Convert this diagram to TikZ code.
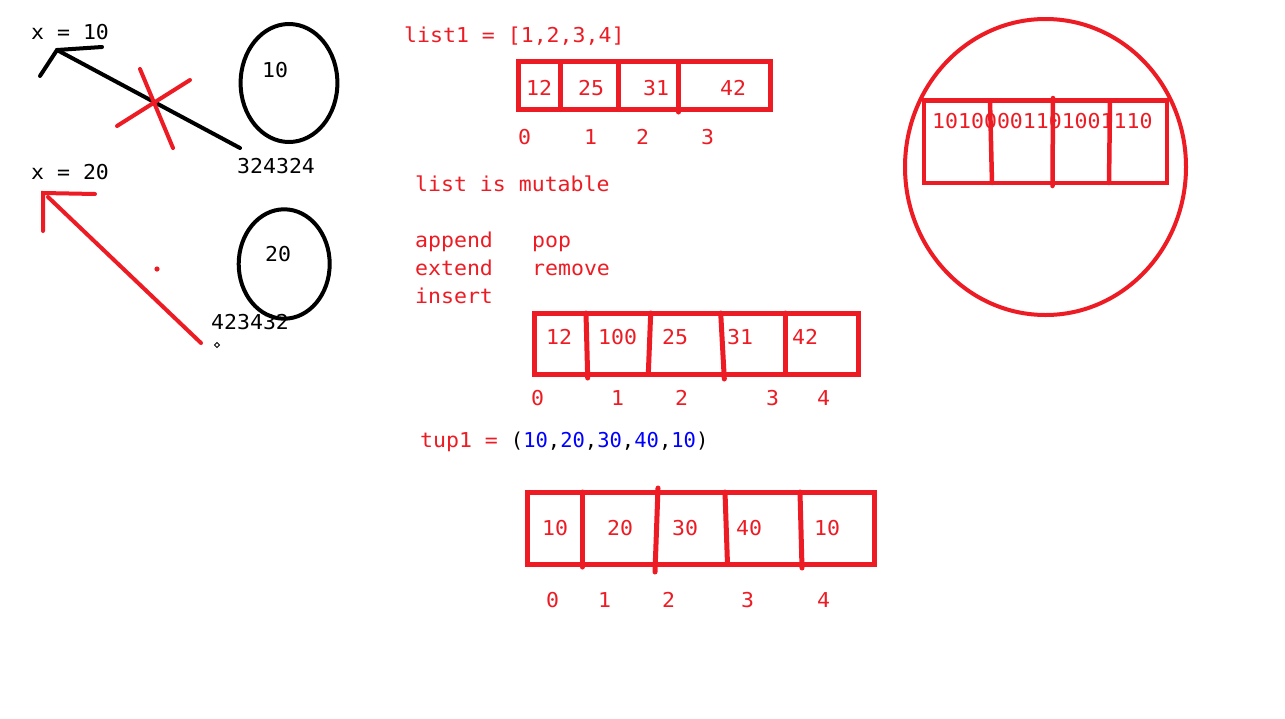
\documentclass[tikz,border=0pt]{standalone}
\usepackage{fontspec}
\newfontfamily\cons[FakeStretch=1.05]{DejaVu Sans Mono}
\newfontfamily\consn{DejaVu Sans Mono}
\definecolor{pred}{HTML}{ED1C24}
\definecolor{pblue}{HTML}{0000FF}
\begin{document}
\begin{tikzpicture}[x=1pt,y=-1pt,
  txt/.style={font=\cons\fontsize{20.5}{24}\selectfont, inner sep=0pt, anchor=base west},
  rtxt/.style={txt, text=pred},
  ktxt/.style={txt, text=black},
  kpen/.style={draw=black, line width=4pt, line cap=round},
  rpen/.style={draw=pred, line width=4pt, line cap=round},
  boxpen/.style={draw=pred, line width=5pt},
  divpen/.style={draw=pred, line width=5pt, line cap=round}]
\useasboundingbox (0,0) rectangle (1285,718);
\fill[white] (0,0) rectangle (1285,718);

% ---- left part: variables and objects
\node[ktxt] (x10) at (31,39) {x = 10};
\node[ktxt] (v10) at (262,77) {10};
\node[ktxt] (a1) at (237,173) {324324};
\node[ktxt] (x20) at (31,179) {x = 20};
\node[ktxt] (v20) at (265,261) {20};
\node[ktxt] (a2) at (211,329) {423432};

\draw[kpen] (289,83) ellipse [x radius=48.4, y radius=59];
\draw[kpen] (284.2,264) ellipse [x radius=45.5, y radius=54.7];

% black arrow (crossed out)
\coordinate (k0) at (240,148);
\coordinate (k1) at (57,50);
\coordinate (kh1) at (102,47);
\coordinate (kh2) at (40,76);
\draw[kpen] (k0) -- (k1);
\draw[kpen] (kh1) -- (k1) -- (kh2);
% red cross
\coordinate (c1) at (140,69);
\coordinate (c2) at (173,148);
\coordinate (c3) at (117,126);
\coordinate (c4) at (190,80);
\draw[rpen] (c1) -- (c2);
\draw[rpen] (c3) -- (c4);

% red arrow
\coordinate (r0) at (201,343);
\coordinate (r1) at (48,197);
\coordinate (rh0) at (43,193);
\coordinate (rh1) at (95,194);
\coordinate (rh2) at (43,231);
\draw[rpen] (r0) -- (r1);
\draw[rpen] (rh1) -- (rh0) -- (rh2);
\fill[pred] (157,269) circle (2.6);
\draw[black, line width=0.9pt] (217,342.5) -- (219.5,345) -- (217,347.5) -- (214.5,345) -- cycle;

% ---- list1
\node[rtxt] (l1) at (404,42) {list1 = [1,2,3,4]};
\draw[boxpen] (518.5,61.5) rectangle (770.5,109.5);
\draw[divpen] (560,61.5) -- (560,109.5);
\draw[divpen] (618,61.5) -- (618,109.5);
\draw[divpen] (678.5,61.5) -- (678.5,112);
\node[rtxt] (l1c0) at (526,95) {12};
\node[rtxt] (l1c1) at (578,95) {25};
\node[rtxt] (l1c2) at (643,95) {31};
\node[rtxt] (l1c3) at (720,95) {42};
\node[rtxt] (l1i0) at (518,144) {0};
\node[rtxt] (l1i1) at (584,144) {1};
\node[rtxt] (l1i2) at (636,144) {2};
\node[rtxt] (l1i3) at (701,144) {3};

\node[rtxt] (mut) at (415,191) {list is mutable};
\node[rtxt] (m1) at (415,247) {append};
\node[rtxt] (m2) at (415,275) {extend};
\node[rtxt] (m3) at (415,303) {insert};
\node[rtxt] (m4) at (532,247) {pop};
\node[rtxt] (m5) at (532,275) {remove};

% ---- list after insert
\draw[boxpen] (534,313) rectangle (858,374);
\draw[divpen] (586,313) -- (587.7,378);
\draw[divpen] (650.7,313) -- (648.3,374);
\draw[divpen] (720.7,313) -- (724.3,379);
\draw[divpen] (785.7,313) -- (785.7,374);
\node[rtxt] (l2c0) at (546,344) {12};
\node[rtxt] (l2c1) at (598,344) {100};
\node[rtxt] (l2c2) at (662,344) {25};
\node[rtxt] (l2c3) at (727,344) {31};
\node[rtxt] (l2c4) at (792,344) {42};
\node[rtxt] (l2i0) at (531,405) {0};
\node[rtxt] (l2i1) at (611,405) {1};
\node[rtxt] (l2i2) at (675,405) {2};
\node[rtxt] (l2i3) at (766,405) {3};
\node[rtxt] (l2i4) at (817,405) {4};

% ---- tuple
\node[rtxt] (tup) at (420,447) {tup1 = {\consn\textcolor{black}{(}\textcolor{pblue}{10}\textcolor{black}{,}\textcolor{pblue}{20}\textcolor{black}{,}\textcolor{pblue}{30}\textcolor{black}{,}\textcolor{pblue}{40}\textcolor{black}{,}\textcolor{pblue}{10}\textcolor{black}{)}}};
\draw[boxpen] (527,492) rectangle (874.5,564.5);
\draw[divpen] (582.3,492) -- (582.3,567);
\draw[divpen] (658,488) -- (655,572);
\draw[divpen] (725,492) -- (727.5,564.5);
\draw[divpen] (800,492) -- (802,568);
\node[rtxt] (tc0) at (542,535) {10};
\node[rtxt] (tc1) at (607,535) {20};
\node[rtxt] (tc2) at (672,535) {30};
\node[rtxt] (tc3) at (736,535) {40};
\node[rtxt] (tc4) at (814,535) {10};
\node[rtxt] (ti0) at (546,607) {0};
\node[rtxt] (ti1) at (598,607) {1};
\node[rtxt] (ti2) at (662,607) {2};
\node[rtxt] (ti3) at (741,607) {3};
\node[rtxt] (ti4) at (817,607) {4};

% ---- memory circle
\draw[draw=pred, line width=4pt] (1045.5,167) ellipse [x radius=140.5, y radius=148];
\draw[draw=pred, line width=4.5pt] (924,100.5) rectangle (1167,183);
\draw[draw=pred, line width=4.5pt, line cap=round] (990,100.5) -- (992,183);
\draw[draw=pred, line width=4.5pt, line cap=round] (1053,98) -- (1052.5,186);
\draw[draw=pred, line width=4.5pt, line cap=round] (1110,100.5) -- (1109,183);
\node[rtxt] (bits) at (932,128) {10100001101001110};
\end{tikzpicture}
\end{document}
